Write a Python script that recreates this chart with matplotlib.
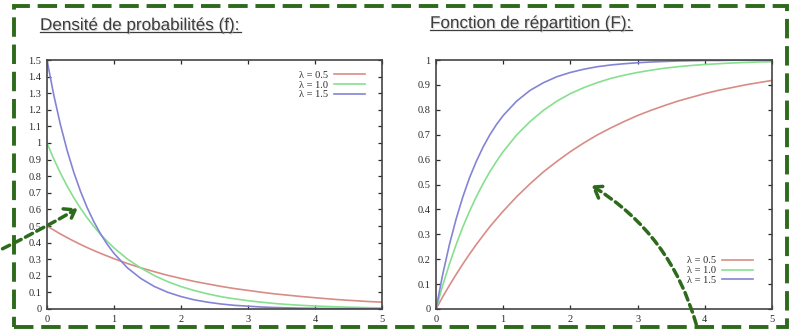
import matplotlib
matplotlib.use("Agg")
import matplotlib.pyplot as plt
import matplotlib.patheffects as pe
from matplotlib.patches import FancyArrowPatch, Rectangle
from matplotlib.lines import Line2D

# values
x = [0, 0.1, 0.2, 0.3, 0.4, 0.5, 0.6, 0.7, 0.8, 0.9, 1.0,
     1.2, 1.4, 1.6, 1.8, 2.0, 2.2, 2.4, 2.6, 2.8, 3.0,
     3.2, 3.4, 3.6, 3.8, 4.0, 4.2, 4.4, 4.6, 4.8, 5.0]

f_05 = [0.500, 0.476, 0.452, 0.430, 0.409, 0.389, 0.370, 0.352, 0.335, 0.319, 0.303,
        0.274, 0.248, 0.225, 0.203, 0.184, 0.166, 0.151, 0.136, 0.123, 0.112,
        0.101, 0.091, 0.083, 0.075, 0.068, 0.061, 0.055, 0.050, 0.045, 0.041]
f_10 = [1.000, 0.905, 0.819, 0.741, 0.670, 0.607, 0.549, 0.497, 0.449, 0.407, 0.368,
        0.301, 0.247, 0.202, 0.165, 0.135, 0.111, 0.091, 0.074, 0.061, 0.050,
        0.041, 0.033, 0.027, 0.022, 0.018, 0.015, 0.012, 0.010, 0.008, 0.007]
f_15 = [1.500, 1.291, 1.111, 0.956, 0.823, 0.709, 0.610, 0.525, 0.452, 0.389, 0.335,
        0.248, 0.184, 0.136, 0.101, 0.075, 0.055, 0.041, 0.030, 0.022, 0.017,
        0.012, 0.009, 0.007, 0.005, 0.004, 0.003, 0.002, 0.002, 0.001, 0.001]

F_05 = [0, 0.049, 0.095, 0.139, 0.181, 0.221, 0.259, 0.295, 0.330, 0.362, 0.393,
        0.451, 0.503, 0.551, 0.593, 0.632, 0.667, 0.699, 0.727, 0.753, 0.777,
        0.798, 0.817, 0.835, 0.850, 0.865, 0.878, 0.889, 0.900, 0.909, 0.918]
F_10 = [0, 0.095, 0.181, 0.259, 0.330, 0.393, 0.451, 0.503, 0.551, 0.593, 0.632,
        0.699, 0.753, 0.798, 0.835, 0.865, 0.889, 0.909, 0.926, 0.939, 0.950,
        0.959, 0.967, 0.973, 0.978, 0.982, 0.985, 0.988, 0.990, 0.992, 0.993]
F_15 = [0, 0.139, 0.259, 0.362, 0.451, 0.528, 0.593, 0.650, 0.699, 0.741, 0.777,
        0.835, 0.878, 0.909, 0.933, 0.950, 0.963, 0.973, 0.980, 0.985, 0.989,
        0.992, 0.994, 0.996, 0.997, 0.998, 0.998, 0.999, 0.999, 0.999, 0.999]

labels = ["λ = 0.5", "λ = 1.0", "λ = 1.5"]
colors = ["#d98c86", "#86e08e", "#8484d6"]

titles = ["Densité de probabilités (f):", "Fonction de répartition (F):"]

W, H = 793, 331
fig = plt.figure(figsize=(W / 100, H / 100), dpi=100)
fig.patch.set_facecolor("white")


def px(xp, yp):
    # pixel position (top-left origin) -> figure fraction
    return xp / W, 1 - yp / H


def style_axes(ax, ymax, yticks):
    ax.set_xlim(0, 5)
    ax.set_ylim(0, ymax)
    ax.set_xticks([0, 1, 2, 3, 4, 5])
    ax.set_yticks(yticks)
    ax.set_yticklabels(["%g" % t for t in yticks])
    ax.tick_params(direction="in", length=3, width=0.9, top=True, right=True,
                   labelsize=7.5, colors="#2a2a2a", pad=4)
    for lab in ax.get_xticklabels() + ax.get_yticklabels():
        lab.set_fontfamily("Liberation Serif")
    for s in ax.spines.values():
        s.set_color("#444444")
        s.set_linewidth(1.2)


ax1 = fig.add_axes([47 / W, 1 - 309 / H, (382 - 47) / W, (309 - 60) / H])
ax2 = fig.add_axes([436 / W, 1 - 309 / H, (772 - 436) / W, (309 - 60) / H])

for ys, lab, c in zip([f_05, f_10, f_15], labels, colors):
    ax1.plot(x, ys, color=c, lw=1.2, label=lab)
for ys, lab, c in zip([F_05, F_10, F_15], labels, colors):
    ax2.plot(x, ys, color=c, lw=1.2, label=lab)

style_axes(ax1, 1.5, [round(0.1 * i, 1) for i in range(16)])
style_axes(ax2, 1.0, [round(0.1 * i, 1) for i in range(11)])

leg_kw = dict(frameon=False, markerfirst=False, handlelength=3.0, handletextpad=0.5,
              labelspacing=0.05, borderaxespad=0, borderpad=0,
              prop={"family": "Liberation Serif", "size": 7.5})
leg1 = ax1.legend(loc="upper right", bbox_to_anchor=(0.949, 0.958), **leg_kw)
leg2 = ax2.legend(loc="lower right", bbox_to_anchor=(0.943, 0.096), **leg_kw)
for leg in (leg1, leg2):
    for t in leg.get_texts():
        t.set_color("#2a2a2a")

# panel titles, underlined with a soft shadow
title_pos = [(40, 30), (430, 28)]
title_objs = []
for (tx, ty), t in zip(title_pos, titles):
    fx, fy = px(tx, ty)
    obj = fig.text(fx, fy, t, fontsize=12.3, family="Liberation Sans", color="#3c3c3c",
                   path_effects=[pe.withSimplePatchShadow(offset=(0.8, -0.8),
                                                          shadow_rgbFace="#bbbbbb", alpha=0.6)])
    title_objs.append(obj)

fig.canvas.draw()
inv = fig.transFigure.inverted()
for obj in title_objs:
    bb = obj.get_window_extent()
    (x0, y0), (x1, _) = inv.transform([(bb.x0, bb.y0), (bb.x1, bb.y0)])
    fig.add_artist(Line2D([x0, x1], [y0 + 0.002, y0 + 0.002], transform=fig.transFigure,
                          color="#3c3c3c", lw=0.9))

# dashed green frame
green = "#2d6a1c"
bx0, by0 = px(14, 327)
bx1, by1 = px(787, 6)
fig.add_artist(Rectangle((bx0, by0), bx1 - bx0, by1 - by0, transform=fig.transFigure,
                         fill=False, edgecolor=green, lw=2.8, linestyle=(0, (5, 2))))

# dashed green arrows
arrow_kw = dict(transform=fig.transFigure, arrowstyle="->,head_length=7,head_width=5",
                color=green, lw=2.5, linestyle=(0, (2.3, 1.4)), mutation_scale=1)
a1 = FancyArrowPatch(px(0, 250), px(80, 207), connectionstyle="arc3,rad=0.02", **arrow_kw)
a2 = FancyArrowPatch(px(697, 327), px(589, 184), connectionstyle="arc3,rad=0.2", **arrow_kw)
fig.add_artist(a1)
fig.add_artist(a2)

fig.savefig("out.png", dpi=100, facecolor="white")
